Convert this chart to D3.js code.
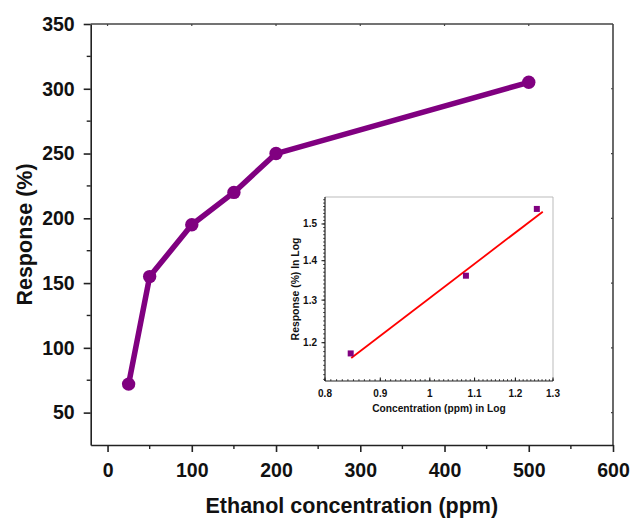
<!DOCTYPE html>
<html><head><meta charset="utf-8">
<script src="https://cdn.jsdelivr.net/npm/d3@7"></script>
<style>
html,body{margin:0;padding:0;background:#fff;}
svg{display:block;font-family:"Liberation Sans",Arial,sans-serif;}
</style></head>
<body>
<svg id="chart" width="633" height="518"></svg>
<script>
// Main chart data
const concentrations = [25, 50, 100, 150, 200, 500];
const responses = [72, 155, 195, 220, 250, 305];
const xTicks = [0, 100, 200, 300, 400, 500, 600];
const xMinorTicks = [50, 150, 250, 350, 450, 550];
const yTicks = [50, 100, 150, 200, 250, 300, 350];
const yMinorTicks = [75, 125, 175, 225, 275, 325];

// Inset data (log-log)
const logConc = [0.845, 1.080, 1.256];
const logResp = [1.176, 1.361, 1.543];
const fitX = [0.846, 1.272];
const fitY = [1.166, 1.535];
const insetXTicks = [0.8, 0.9, 1, 1.1, 1.2, 1.3];
const insetXLabels = ["0.8", "0.9", "1", "1.1", "1.2", "1.3"];
const insetYTicks = [1.2, 1.3, 1.4, 1.5];
const insetYLabels = ["1.2", "1.3", "1.4", "1.5"];

const svg = d3.select("#chart");
const purple = "#800080";
const axisColor = "#222";

// ---------- Main plot ----------
const L = 90.7, R = 613, T = 24, B = 445;
const x = d3.scaleLinear().domain([-20, 600]).range([L, R]);
const y = d3.scaleLinear().domain([25, 350]).range([B, T]);

// frame (top, right)
svg.append("line").attr("x1", L).attr("x2", R).attr("y1", T).attr("y2", T)
  .attr("stroke", "#444").attr("stroke-width", 1.6);
svg.append("line").attr("x1", R).attr("x2", R).attr("y1", T).attr("y2", B)
  .attr("stroke", "#444").attr("stroke-width", 1.6);
// tiny inward ticks on right and top
svg.append("g").selectAll("line").data(yTicks.filter(d => d < 350)).join("line")
  .attr("x1", R - 2).attr("x2", R).attr("y1", d => y(d)).attr("y2", d => y(d))
  .attr("stroke", "#444").attr("stroke-width", 1.2);
svg.append("g").selectAll("line").data(xTicks.filter(d => d < 600)).join("line")
  .attr("x1", d => x(d)).attr("x2", d => x(d)).attr("y1", T).attr("y2", T + 2)
  .attr("stroke", "#444").attr("stroke-width", 1.2);

function styleAxis(g) {
  g.select(".domain").attr("stroke", axisColor).attr("stroke-width", 1.6);
  g.selectAll(".tick line").attr("stroke", axisColor).attr("stroke-width", 1.6);
}

// bottom axis
const gx = svg.append("g").attr("transform", `translate(0,${B})`)
  .call(d3.axisBottom(x).tickValues(xTicks).tickSize(7).tickSizeOuter(0).tickFormat(d3.format("d")));
styleAxis(gx);
gx.selectAll(".tick text").attr("dy", null).attr("y", 32)
  .attr("font-size", 19.5).attr("font-weight", "bold").attr("fill", "#111");
gx.append("g").selectAll("line").data(xMinorTicks).join("line")
  .attr("x1", d => x(d)).attr("x2", d => x(d)).attr("y1", 0).attr("y2", 4)
  .attr("stroke", axisColor).attr("stroke-width", 1.4);

// left axis
const gy = svg.append("g").attr("transform", `translate(${L},0)`)
  .call(d3.axisLeft(y).tickValues(yTicks).tickSize(7).tickSizeOuter(0).tickPadding(9).tickFormat(d3.format("d")));
styleAxis(gy);
gy.selectAll(".tick text").attr("font-size", 19.5).attr("font-weight", "bold").attr("fill", "#111");
gy.append("g").selectAll("line").data(yMinorTicks).join("line")
  .attr("x1", -4).attr("x2", 0).attr("y1", d => y(d)).attr("y2", d => y(d))
  .attr("stroke", axisColor).attr("stroke-width", 1.4);

// line + markers
const pts = concentrations.map((c, i) => [c, responses[i]]);
svg.append("path").datum(pts)
  .attr("d", d3.line().x(d => x(d[0])).y(d => y(d[1])))
  .attr("fill", "none").attr("stroke", purple).attr("stroke-width", 5.5)
  .attr("stroke-linejoin", "round");
svg.append("g").selectAll("circle").data(pts).join("circle")
  .attr("cx", d => x(d[0])).attr("cy", d => y(d[1])).attr("r", 6.7).attr("fill", purple);

// titles
svg.append("text").attr("x", (L + R) / 2).attr("y", 513)
  .attr("text-anchor", "middle").attr("font-size", 21.5).attr("font-weight", "bold").attr("fill", "#111")
  .text("Ethanol concentration (ppm)");
svg.append("text").attr("transform", `translate(31.5,${(T + B) / 2}) rotate(-90)`)
  .attr("text-anchor", "middle").attr("font-size", 21.5).attr("font-weight", "bold").attr("fill", "#111")
  .text("Response (%)");

// ---------- Inset ----------
const iL = 325, iR = 553, iT = 197, iB = 381;
const ix = d3.scaleLog().domain([0.8, 1.3]).range([iL, iR]);
const iy = d3.scaleLog().domain([1.1166, 1.578]).range([iB, iT]);

svg.append("line").attr("x1", iL).attr("x2", iR).attr("y1", iT).attr("y2", iT)
  .attr("stroke", "#bbb").attr("stroke-width", 1);
svg.append("line").attr("x1", iR).attr("x2", iR).attr("y1", iT).attr("y2", iB)
  .attr("stroke", "#bbb").attr("stroke-width", 1);

const ixMinor = d3.range(80, 131).map(v => v / 100);
const iyMinor = d3.range(112, 158).map(v => v / 100);

const gix = svg.append("g").attr("transform", `translate(0,${iB})`);
gix.append("line").attr("x1", iL).attr("x2", iR).attr("stroke", axisColor).attr("stroke-width", 1.2);
gix.selectAll("line.mn").data(ixMinor).join("line").attr("class", "mn")
  .attr("x1", d => ix(d)).attr("x2", d => ix(d)).attr("y1", 0).attr("y2", -1.8)
  .attr("stroke", axisColor).attr("stroke-width", 0.9);
gix.selectAll("line.mj").data(insetXTicks).join("line").attr("class", "mj")
  .attr("x1", d => ix(d)).attr("x2", d => ix(d)).attr("y1", 0).attr("y2", -3.5)
  .attr("stroke", axisColor).attr("stroke-width", 1.1);
gix.selectAll("text").data(insetXTicks).join("text")
  .attr("x", d => ix(d)).attr("y", 16).attr("text-anchor", "middle")
  .attr("font-size", 10).attr("font-weight", "bold").attr("fill", "#111")
  .text((d, i) => insetXLabels[i]);

const giy = svg.append("g").attr("transform", `translate(${iL},0)`);
giy.append("line").attr("y1", iT).attr("y2", iB).attr("stroke", axisColor).attr("stroke-width", 1.2);
giy.selectAll("line.mn").data(iyMinor).join("line").attr("class", "mn")
  .attr("x1", -1.8).attr("x2", 0).attr("y1", d => iy(d)).attr("y2", d => iy(d))
  .attr("stroke", axisColor).attr("stroke-width", 0.9);
giy.selectAll("line.mj").data(insetYTicks).join("line").attr("class", "mj")
  .attr("x1", -3.5).attr("x2", 0).attr("y1", d => iy(d)).attr("y2", d => iy(d))
  .attr("stroke", axisColor).attr("stroke-width", 1.1);
giy.selectAll("text").data(insetYTicks).join("text")
  .attr("x", -8).attr("y", d => iy(d)).attr("dy", "0.35em").attr("text-anchor", "end")
  .attr("font-size", 10).attr("font-weight", "bold").attr("fill", "#111")
  .text((d, i) => insetYLabels[i]);

// fit line
svg.append("path").datum(fitX.map((v, i) => [v, fitY[i]]))
  .attr("d", d3.line().x(d => ix(d[0])).y(d => iy(d[1])))
  .attr("stroke", "#ff0000").attr("stroke-width", 1.8).attr("fill", "none");
// squares
svg.append("g").selectAll("rect").data(logConc.map((v, i) => [v, logResp[i]])).join("rect")
  .attr("x", d => ix(d[0]) - 3).attr("y", d => iy(d[1]) - 3)
  .attr("width", 6).attr("height", 6).attr("fill", purple);

svg.append("text").attr("x", (iL + iR) / 2).attr("y", 412)
  .attr("text-anchor", "middle").attr("font-size", 10.2).attr("font-weight", "bold").attr("fill", "#111")
  .text("Concentration (ppm) in Log");
svg.append("text").attr("transform", `translate(298.5,${(iT + iB) / 2}) rotate(-90)`)
  .attr("text-anchor", "middle").attr("font-size", 10.4).attr("font-weight", "bold").attr("fill", "#111")
  .text("Response (%) In Log");
</script>
</body></html>
